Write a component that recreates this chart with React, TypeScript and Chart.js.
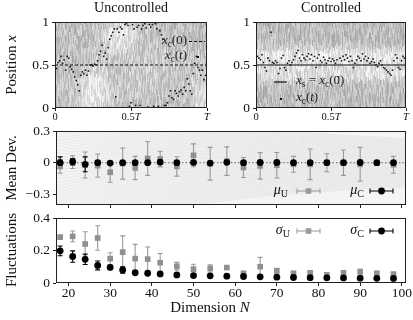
import React, { useEffect, useRef } from 'react';
import { Chart, registerables } from 'chart.js';
Chart.register(...registerables);

const W = 413;
const H = 320;
const SERIF = '"Liberation Serif", "Times New Roman", "DejaVu Serif", serif';

// ---------- data ----------
const TIME_TICKS = [0, 0.5, 1];
const TIME_TICK_LABELS = ['0', '0.5T', 'T'];
const POS_TICKS = [0, 0.5, 1];
const POS_TICK_LABELS = ['0', '0.5', '1'];
const XC0 = 0.5; // x_c(0)
const XS = 0.5; // x_s = x_c(0)

const UNC_T = [0.00,0.01,0.02,0.03,0.04,0.05,0.06,0.07,0.08,0.09,0.10,0.11,0.12,0.13,0.14,0.15,0.16,0.17,0.18,0.19,0.20,0.21,0.22,0.23,0.24,0.25,0.26,0.27,0.28,0.29,0.30,0.31,0.32,0.33,0.34,0.35,0.36,0.37,0.38,0.39,0.40,0.41,0.42,0.43,0.44,0.45,0.46,0.47,0.48,0.49,0.50,0.51,0.52,0.53,0.54,0.55,0.56,0.57,0.58,0.59,0.60,0.61,0.62,0.63,0.64,0.65,0.66,0.67,0.68,0.69,0.70,0.71,0.72,0.73,0.74,0.75,0.76,0.77,0.78,0.79,0.80,0.81,0.82,0.83,0.84,0.85,0.86,0.87,0.88,0.89,0.90,0.91,0.92,0.93,0.94,0.95,0.96,0.97,0.98,0.99,1.00];
const UNC_X = [0.50,0.46,0.53,0.55,0.60,0.52,0.56,0.44,0.60,0.58,0.48,0.45,0.42,0.36,0.32,0.27,0.20,0.38,0.42,0.40,0.44,0.38,0.43,0.50,0.50,0.49,0.51,0.50,0.55,0.62,0.66,0.73,0.60,0.64,0.57,0.70,0.80,0.84,0.88,0.92,0.13,0.92,0.88,0.94,0.92,0.85,0.97,0.98,0.96,0.02,0.06,0.97,0.92,0.03,0.94,0.96,0.03,0.92,0.96,0.98,0.93,0.01,0.97,0.94,0.97,0.02,0.98,0.92,0.02,0.90,0.85,0.80,0.03,0.03,0.06,0.14,0.20,0.12,0.10,0.20,0.17,0.14,0.19,0.21,0.16,0.24,0.20,0.34,0.28,0.20,0.16,0.40,0.52,0.60,0.47,0.44,0.38,0.44,0.33,0.38,0.34];

const CTL_T = [0.00,0.01,0.02,0.03,0.04,0.05,0.06,0.07,0.08,0.09,0.10,0.11,0.12,0.13,0.14,0.15,0.16,0.17,0.18,0.19,0.20,0.21,0.22,0.23,0.24,0.25,0.26,0.27,0.28,0.29,0.30,0.31,0.32,0.33,0.34,0.35,0.36,0.37,0.38,0.39,0.40,0.41,0.42,0.43,0.44,0.45,0.46,0.47,0.48,0.49,0.50,0.51,0.52,0.53,0.54,0.55,0.56,0.57,0.58,0.59,0.60,0.61,0.62,0.63,0.64,0.65,0.66,0.67,0.68,0.69,0.70,0.71,0.72,0.73,0.74,0.75,0.76,0.77,0.78,0.79,0.80,0.81,0.82,0.83,0.84,0.85,0.86,0.87,0.88,0.89,0.90,0.91,0.92,0.93,0.94,0.95,0.96,0.97,0.98,0.99,1.00];
const CTL_X = [0.55,0.60,0.58,0.56,0.62,0.53,0.47,0.43,0.58,0.55,0.88,0.53,0.52,0.55,0.53,0.40,0.46,0.58,0.61,0.47,0.44,0.52,0.55,0.50,0.53,0.56,0.60,0.64,0.67,0.58,0.55,0.62,0.58,0.56,0.60,0.63,0.57,0.62,0.55,0.60,0.47,0.58,0.62,0.55,0.53,0.59,0.56,0.52,0.55,0.58,0.54,0.57,0.55,0.52,0.56,0.36,0.58,0.55,0.60,0.56,0.62,0.58,0.54,0.60,0.55,0.47,0.52,0.56,0.60,0.58,0.55,0.63,0.57,0.60,0.55,0.58,0.52,0.54,0.57,0.53,0.50,0.48,0.52,0.55,0.50,0.47,0.46,0.44,0.42,0.40,0.38,0.44,0.55,0.62,0.58,0.47,0.45,0.55,0.60,0.58,0.60];

const N_VALUES = [18,21,24,27,30,33,36,39,42,46,50,54,58,62,66,70,74,78,82,86,90,94,98];
const N_TICKS = [20,30,40,50,60,70,80,90,100];
const N_TICK_LABELS = ['20','30','40','50','60','70','80','90','100'];

const MU_U = [-0.035,0.005,-0.022,-0.028,-0.09,-0.008,-0.05,0.04,0.035,-0.035,0.07,-0.01,0.015,-0.045,-0.03,-0.024,-0.015,-0.015,0.0,0.0,-0.015,-0.005,-0.02];
const MU_U_ERR = [0.065,0.06,0.123,0.11,0.095,0.147,0.11,0.16,0.074,0.092,0.108,0.155,0.135,0.095,0.125,0.12,0.075,0.145,0.085,0.12,0.16,0.01,0.08];
const MU_C = [0.0,0.01,-0.015,0.0,-0.003,0.0,0.0,0.0,0.005,0.0,0.003,-0.003,0.004,0.0,0.002,0.002,0.0,0.0,0.0,0.0,0.002,0.0,0.0];
const MU_C_ERR = [0.055,0.03,0.07,0.02,0.012,0.01,0.008,0.006,0.006,0.005,0.005,0.005,0.004,0.004,0.004,0.004,0.003,0.003,0.003,0.003,0.003,0.003,0.003];
const MEAN_TICKS = [-0.3, 0, 0.3];
const MEAN_TICK_LABELS = ['\u22120.3', '0', '0.3'];

const SIGMA_U = [0.282,0.287,0.24,0.277,0.15,0.19,0.15,0.147,0.125,0.103,0.085,0.09,0.095,0.06,0.1,0.075,0.06,0.063,0.05,0.063,0.07,0.06,0.055];
const SIGMA_U_ERR = [0.012,0.033,0.075,0.075,0.036,0.1,0.088,0.075,0.057,0.024,0.03,0.022,0.012,0.005,0.058,0.015,0.005,0.01,0.005,0.008,0.015,0.01,0.01];
const SIGMA_C = [0.198,0.163,0.146,0.108,0.096,0.08,0.063,0.06,0.056,0.05,0.046,0.044,0.042,0.04,0.038,0.036,0.034,0.033,0.032,0.031,0.03,0.029,0.028];
const SIGMA_C_ERR = [0.03,0.035,0.032,0.027,0.01,0.02,0.005,0.004,0.004,0.003,0.003,0.003,0.003,0.003,0.003,0.003,0.002,0.002,0.002,0.002,0.002,0.002,0.002];
const FLUCT_TICKS = [0, 0.2, 0.4];
const FLUCT_TICK_LABELS = ['0', '0.2', '0.4'];

// ---------- helpers ----------
type Seg = { t: string; it?: boolean; sub?: boolean };

function drawRich(ctx: CanvasRenderingContext2D, segs: Seg[], x: number, y: number, size: number,
  align: 'left' | 'right' | 'center' = 'left', color = '#111', rot = 0) {
  ctx.save();
  ctx.translate(x, y);
  if (rot) ctx.rotate(rot);
  ctx.textBaseline = 'middle';
  ctx.fillStyle = color;
  const fontOf = (s: Seg) => `${s.it ? 'italic ' : ''}${s.sub ? size * 0.72 : size}px ${SERIF}`;
  let w = 0;
  for (const s of segs) { ctx.font = fontOf(s); w += ctx.measureText(s.t).width; }
  let cx = align === 'left' ? 0 : align === 'right' ? -w : -w / 2;
  for (const s of segs) {
    ctx.font = fontOf(s);
    ctx.fillText(s.t, cx, s.sub ? size * 0.3 : 0);
    cx += ctx.measureText(s.t).width;
  }
  ctx.restore();
}

function hash(i: number, j: number) {
  let h = (Math.imul(i, 374761393) + Math.imul(j, 668265263)) | 0;
  h = Math.imul(h ^ (h >>> 13), 1274126177);
  return ((h ^ (h >>> 16)) >>> 0) / 4294967296;
}
function gauss(t: number, v: number, t0: number, v0: number, st: number, sv: number) {
  const a = (t - t0) / st, b = (v - v0) / sv;
  return Math.exp(-0.5 * (a * a + b * b));
}
const uncShade = (t: number, v: number) =>
  194 + 44 * gauss(t, v, 0.26, 0.18, 0.07, 0.2) + 40 * gauss(t, v, 0.42, 0.85, 0.07, 0.15)
  + 32 * gauss(t, v, 0.96, 0.15, 0.05, 0.18) + 14 * gauss(t, v, 0.62, 0.4, 0.12, 0.25);
const ctlShade = (_t: number, v: number) =>
  190 + 46 * Math.exp(-0.5 * ((v - 0.6) / 0.07) ** 2) + 32 * Math.exp(-0.5 * ((v - 0.4) / 0.07) ** 2);

function drawTexture(chart: any, shade: (t: number, v: number) => number) {
  const { ctx, chartArea, scales } = chart;
  const { left, right, top, bottom } = chartArea;
  ctx.save();
  const bandH = 6;
  for (let px = Math.floor(left); px < right; px++) {
    const off = Math.floor(hash(px, 7) * bandH);
    let j = 0;
    for (let y = top - off; y < bottom; y += bandH, j++) {
      const y0 = Math.max(y, top), y1 = Math.min(y + bandH, bottom);
      const t = scales.x.getValueForPixel(px + 0.5);
      const v = scales.y.getValueForPixel((y0 + y1) / 2);
      let c = shade(t, v) + (hash(px, j + 11) - 0.5) * 54;
      c = Math.max(120, Math.min(248, c)) | 0;
      ctx.fillStyle = `rgb(${c},${c},${c})`;
      ctx.fillRect(px, y0, 1, y1 - y0);
    }
  }
  ctx.restore();
}

function drawBox(chart: any, lw = 1) {
  const { ctx, chartArea: a } = chart;
  ctx.save();
  ctx.strokeStyle = '#222';
  ctx.lineWidth = lw;
  ctx.strokeRect(a.left + 0.5, a.top + 0.5, a.right - a.left - 1, a.bottom - a.top - 1);
  ctx.restore();
}

function drawErr(chart: any, xs: number[], ys: number[], errs: number[], color: string, width = 1.1, cap = 2.5) {
  const { ctx, scales } = chart;
  ctx.save();
  ctx.strokeStyle = color;
  ctx.lineWidth = width;
  xs.forEach((n, i) => {
    const px = scales.x.getPixelForValue(n);
    const y1 = scales.y.getPixelForValue(ys[i] + errs[i]);
    const y2 = scales.y.getPixelForValue(ys[i] - errs[i]);
    ctx.beginPath();
    ctx.moveTo(px, y1); ctx.lineTo(px, y2);
    ctx.moveTo(px - cap, y1); ctx.lineTo(px + cap, y1);
    ctx.moveTo(px - cap, y2); ctx.lineTo(px + cap, y2);
    ctx.stroke();
  });
  ctx.restore();
}

function legendSample(ctx: CanvasRenderingContext2D, x1: number, x2: number, y: number, color: string, marker: 'rect' | 'circle') {
  ctx.save();
  ctx.strokeStyle = color;
  ctx.fillStyle = color;
  ctx.lineWidth = 1.1;
  ctx.beginPath();
  ctx.moveTo(x1, y); ctx.lineTo(x2, y);
  ctx.moveTo(x1, y - 2.5); ctx.lineTo(x1, y + 2.5);
  ctx.moveTo(x2, y - 2.5); ctx.lineTo(x2, y + 2.5);
  ctx.stroke();
  const cx = (x1 + x2) / 2;
  if (marker === 'rect') ctx.fillRect(cx - 2.8, y - 2.8, 5.6, 5.6);
  else { ctx.beginPath(); ctx.arc(cx, y, 3.4, 0, Math.PI * 2); ctx.fill(); }
  ctx.restore();
}

const timeLabelSegs = (s: string): Seg[] =>
  s.endsWith('T') ? (s.length > 1 ? [{ t: s.slice(0, -1) }, { t: 'T', it: true }] : [{ t: 'T', it: true }]) : [{ t: s }];

type Area = { l: number; r: number; t: number; b: number };

function axis(min: number, max: number, ticks: number[], labels: string[] | null, size: number, isX: boolean, fontSize = 13, pad = 3) {
  return {
    type: 'linear',
    min, max,
    afterBuildTicks: (s: any) => { s.ticks = ticks.map((v) => ({ value: v })); },
    afterFit: (s: any) => { if (isX) s.height = size; else s.width = size; },
    ticks: {
      display: !!labels,
      callback: (_v: any, i: number) => (labels ? labels[i] : ''),
      font: { family: SERIF, size: fontSize },
      color: '#111',
      padding: pad,
      maxRotation: 0,
      autoSkip: false,
    },
    grid: { display: true, drawOnChartArea: false, drawTicks: true, tickLength: 3, color: '#222', lineWidth: 1 },
    border: { display: false },
  };
}

function baseOptions(area: Area, xH: number, xs: any, ys: any) {
  return {
    animation: false,
    responsive: false,
    maintainAspectRatio: false,
    devicePixelRatio: 1,
    events: [],
    layout: { padding: { left: 0, top: area.t, right: W - area.r, bottom: H - area.b - xH } },
    plugins: { legend: { display: false }, tooltip: { enabled: false }, title: { display: false } },
    scales: { x: xs, y: ys },
  };
}

const A_UNC: Area = { l: 55, r: 207, t: 22, b: 108 };
const A_CTL: Area = { l: 256, r: 406, t: 22, b: 108 };
const A_MEAN: Area = { l: 56, r: 406, t: 131, b: 205 };
const A_FLU: Area = { l: 56, r: 406, t: 218, b: 283 };

function drawTimeLabels(chart: any) {
  const { ctx, scales, chartArea } = chart;
  TIME_TICKS.forEach((v, i) => {
    drawRich(ctx, timeLabelSegs(TIME_TICK_LABELS[i]), scales.x.getPixelForValue(v), chartArea.bottom + 9.5, 10.5, 'center');
  });
}

export default function App() {
  const r1 = useRef<HTMLCanvasElement>(null);
  const r2 = useRef<HTMLCanvasElement>(null);
  const r3 = useRef<HTMLCanvasElement>(null);
  const r4 = useRef<HTMLCanvasElement>(null);

  useEffect(() => {
    const charts: Chart[] = [];
    const uncPts = UNC_T.map((t, i) => ({ x: t, y: UNC_X[i] }));
    const ctlPts = CTL_T.map((t, i) => ({ x: t, y: CTL_X[i] }));

    // ---- Uncontrolled ----
    charts.push(new Chart(r1.current!, {
      type: 'scatter',
      data: {
        datasets: [
          { data: [{ x: TIME_TICKS[0], y: XC0 }, { x: TIME_TICKS[2], y: XC0 }], showLine: true, borderColor: '#111', borderWidth: 1, borderDash: [3, 2], pointRadius: 0 },
          { data: uncPts, pointRadius: 1.1, pointStyle: 'rect', backgroundColor: '#111', borderWidth: 0 },
        ],
      } as any,
      options: baseOptions(A_UNC, 14,
        axis(0, 1, TIME_TICKS, null, 14, true),
        axis(0, 1, POS_TICKS, POS_TICK_LABELS, A_UNC.l, false, 13.5)) as any,
      plugins: [{
        id: 'unc',
        beforeDatasetsDraw: (c: any) => drawTexture(c, uncShade),
        afterDatasetsDraw: (c: any) => drawBox(c),
        afterDraw: (c: any) => {
          const ctx = c.ctx;
          drawTimeLabels(c);
          drawRich(ctx, [{ t: 'Uncontrolled' }], 131, 8, 14, 'center');
          drawRich(ctx, [{ t: 'Position ' }, { t: 'x', it: true }], 12, 65, 15, 'center', '#111', -Math.PI / 2);
          drawRich(ctx, [{ t: 'x', it: true }, { t: 'c', sub: true }, { t: '(0)' }], 187, 41, 13, 'right', '#222');
          ctx.save(); ctx.strokeStyle = '#111'; ctx.lineWidth = 1; ctx.setLineDash([3, 2]);
          ctx.beginPath(); ctx.moveTo(189, 41.5); ctx.lineTo(205, 41.5); ctx.stroke(); ctx.restore();
          drawRich(ctx, [{ t: 'x', it: true }, { t: 'c', sub: true }, { t: '(' }, { t: 't', it: true }, { t: ')' }], 187, 56, 13, 'right', '#222');
          ctx.save(); ctx.fillStyle = '#111'; ctx.fillRect(197, 56, 2, 2); ctx.restore();
        },
      }],
    }));

    // ---- Controlled ----
    charts.push(new Chart(r2.current!, {
      type: 'scatter',
      data: {
        datasets: [
          { data: [{ x: TIME_TICKS[0], y: XS }, { x: TIME_TICKS[2], y: XS }], showLine: true, borderColor: '#111', borderWidth: 1.2, pointRadius: 0 },
          { data: ctlPts, pointRadius: 1.1, pointStyle: 'rect', backgroundColor: '#111', borderWidth: 0 },
        ],
      } as any,
      options: (() => {
        const o: any = baseOptions(A_CTL, 14,
          axis(0, 1, TIME_TICKS, null, 14, true),
          axis(0, 1, POS_TICKS, POS_TICK_LABELS, 30, false, 13.5));
        o.layout.padding.left = A_CTL.l - 30;
        return o;
      })(),
      plugins: [{
        id: 'ctl',
        beforeDatasetsDraw: (c: any) => drawTexture(c, ctlShade),
        afterDatasetsDraw: (c: any) => drawBox(c),
        afterDraw: (c: any) => {
          const ctx = c.ctx;
          drawTimeLabels(c);
          drawRich(ctx, [{ t: 'Controlled' }], 331, 8, 14, 'center');
          ctx.save(); ctx.strokeStyle = '#111'; ctx.lineWidth = 1.2;
          ctx.beginPath(); ctx.moveTo(274, 82); ctx.lineTo(287, 82); ctx.stroke(); ctx.restore();
          drawRich(ctx, [{ t: 'x', it: true }, { t: 's', sub: true }, { t: ' = ' }, { t: 'x', it: true }, { t: 'c', sub: true }, { t: '(0)' }], 296, 81, 13, 'left', '#222');
          ctx.save(); ctx.fillStyle = '#111'; ctx.fillRect(280, 98, 2, 2); ctx.restore();
          drawRich(ctx, [{ t: 'x', it: true }, { t: 'c', sub: true }, { t: '(' }, { t: 't', it: true }, { t: ')' }], 296, 98, 13, 'left', '#222');
        },
      }],
    }));

    // ---- Mean deviation ----
    charts.push(new Chart(r3.current!, {
      type: 'scatter',
      data: {
        datasets: [
          { data: N_VALUES.map((n, i) => ({ x: n, y: MU_C[i] })), pointStyle: 'circle', pointRadius: 3.4, backgroundColor: '#000', borderWidth: 0 },
          { data: N_VALUES.map((n, i) => ({ x: n, y: MU_U[i] })), pointStyle: 'rect', pointRadius: 4, backgroundColor: '#909090', borderWidth: 0 },
        ],
      } as any,
      options: baseOptions(A_MEAN, 6,
        axis(17, 101, N_TICKS, null, 6, true),
        axis(-0.4, 0.3, MEAN_TICKS, MEAN_TICK_LABELS, A_MEAN.l, false, 13.5)) as any,
      plugins: [{
        id: 'mean',
        beforeDatasetsDraw: (c: any) => {
          const { ctx, chartArea: a, scales } = c;
          ctx.save();
          ctx.fillStyle = '#f4f4f4';
          ctx.fillRect(a.left, a.top, a.right - a.left, a.bottom - a.top);
          ctx.beginPath(); ctx.rect(a.left, a.top, a.right - a.left, a.bottom - a.top); ctx.clip();
          ctx.strokeStyle = '#e6e6e6';
          ctx.lineWidth = 0.8;
          for (let k = -30; k <= 30; k++) {
            ctx.beginPath();
            for (let n = 17; n <= 101; n += 2) {
              const px = scales.x.getPixelForValue(n);
              const py = scales.y.getPixelForValue(k * 0.016 * Math.pow(40 / n, 0.8));
              if (n === 17) ctx.moveTo(px, py); else ctx.lineTo(px, py);
            }
            ctx.stroke();
          }
          ctx.strokeStyle = '#666';
          ctx.lineWidth = 1;
          ctx.setLineDash([1.5, 2]);
          const y0 = scales.y.getPixelForValue(0);
          ctx.beginPath(); ctx.moveTo(a.left, y0); ctx.lineTo(a.right, y0); ctx.stroke();
          ctx.restore();
          drawErr(c, N_VALUES, MU_U, MU_U_ERR, '#9a9a9a');
          drawErr(c, N_VALUES, MU_C, MU_C_ERR, '#000');
        },
        afterDatasetsDraw: (c: any) => drawBox(c),
        afterDraw: (c: any) => {
          const ctx = c.ctx;
          drawRich(ctx, [{ t: 'Mean Dev.' }], 12, 168, 15, 'center', '#111', -Math.PI / 2);
          drawRich(ctx, [{ t: '\u03bc', it: true }, { t: 'U', sub: true }], 288, 190, 14, 'right');
          legendSample(ctx, 297, 320, 191, '#9a9a9a', 'rect');
          drawRich(ctx, [{ t: '\u03bc', it: true }, { t: 'C', sub: true }], 364, 190, 14, 'right');
          legendSample(ctx, 370, 393, 191, '#000', 'circle');
        },
      }],
    }));

    // ---- Fluctuations ----
    charts.push(new Chart(r4.current!, {
      type: 'scatter',
      data: {
        datasets: [
          { data: N_VALUES.map((n, i) => ({ x: n, y: SIGMA_C[i] })), pointStyle: 'circle', pointRadius: 3.4, backgroundColor: '#000', borderWidth: 0 },
          { data: N_VALUES.map((n, i) => ({ x: n, y: SIGMA_U[i] })), pointStyle: 'rect', pointRadius: 4, backgroundColor: '#909090', borderWidth: 0 },
        ],
      } as any,
      options: baseOptions(A_FLU, 20,
        axis(17, 101, N_TICKS, N_TICK_LABELS, 20, true, 13.5, -1),
        axis(0, 0.4, FLUCT_TICKS, FLUCT_TICK_LABELS, A_FLU.l, false, 13.5)) as any,
      plugins: [{
        id: 'flu',
        beforeDatasetsDraw: (c: any) => {
          drawErr(c, N_VALUES, SIGMA_U, SIGMA_U_ERR, '#9a9a9a');
          drawErr(c, N_VALUES, SIGMA_C, SIGMA_C_ERR, '#000');
        },
        afterDatasetsDraw: (c: any) => drawBox(c),
        afterDraw: (c: any) => {
          const ctx = c.ctx;
          drawRich(ctx, [{ t: 'Fluctuations' }], 12, 250, 15, 'center', '#111', -Math.PI / 2);
          drawRich(ctx, [{ t: 'Dimension ' }, { t: 'N', it: true }], 210, 308.5, 15, 'center');
          drawRich(ctx, [{ t: '\u03c3', it: true }, { t: 'U', sub: true }], 290, 230, 14, 'right');
          legendSample(ctx, 297, 320, 231, '#9a9a9a', 'rect');
          drawRich(ctx, [{ t: '\u03c3', it: true }, { t: 'C', sub: true }], 364, 230, 14, 'right');
          legendSample(ctx, 370, 393, 231, '#000', 'circle');
        },
      }],
    }));

    return () => { charts.forEach((c) => c.destroy()); };
  }, []);

  const cs: React.CSSProperties = { position: 'absolute', left: 0, top: 0, width: W, height: H };
  return (
    <div style={{ position: 'fixed', left: 0, top: 0, width: W, height: H, background: '#fff' }}>
      <canvas ref={r1} width={W} height={H} style={cs} />
      <canvas ref={r2} width={W} height={H} style={cs} />
      <canvas ref={r3} width={W} height={H} style={cs} />
      <canvas ref={r4} width={W} height={H} style={cs} />
    </div>
  );
}
